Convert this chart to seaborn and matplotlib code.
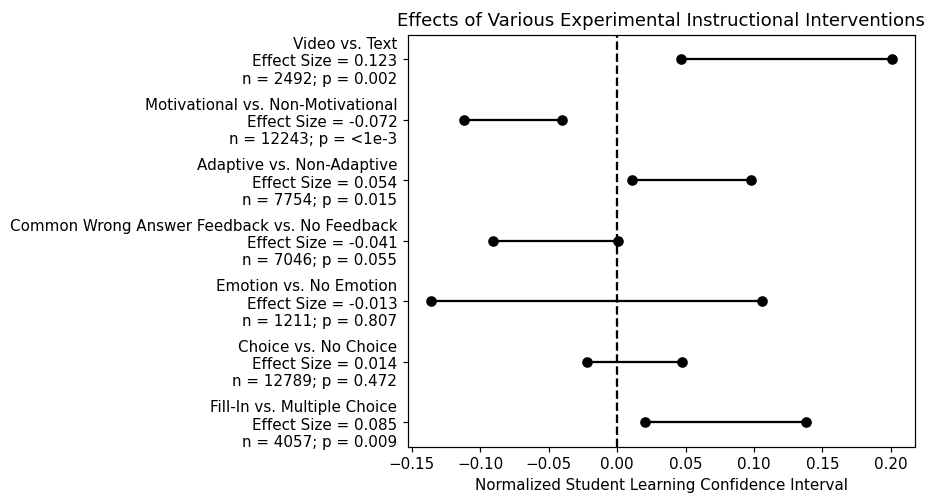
import matplotlib
matplotlib.use("Agg")
import matplotlib.pyplot as plt
import seaborn as sns
import pandas as pd

comparisons = ["Video vs. Text", "Motivational vs. Non-Motivational", "Adaptive vs. Non-Adaptive",
               "Common Wrong Answer Feedback vs. No Feedback", "Emotion vs. No Emotion",
               "Choice vs. No Choice", "Fill-In vs. Multiple Choice"]
effect_sizes = ["0.123", "-0.072", "0.054", "-0.041", "-0.013", "0.014", "0.085"]
n_values = ["2492", "12243", "7754", "7046", "1211", "12789", "4057"]
p_values = ["0.002", "<1e-3", "0.015", "0.055", "0.807", "0.472", "0.009"]
ci_low = [0.0463, -0.1122, 0.0110, -0.0910, -0.1360, -0.0220, 0.0200]
ci_high = [0.2007, -0.0400, 0.0978, 0.0007, 0.1060, 0.0476, 0.1378]

labels = [f"{c}\nEffect Size = {e}\nn = {n}; p = {p}"
          for c, e, n, p in zip(comparisons, effect_sizes, n_values, p_values)]

rows = []
for i, lab in enumerate(labels):
    rows.append({"label": lab, "pos": i, "value": ci_low[i]})
    rows.append({"label": lab, "pos": i, "value": ci_high[i]})
df = pd.DataFrame(rows)

DPI = 109
fig, ax = plt.subplots(figsize=(927 / DPI, 494 / DPI), dpi=DPI)
fig.subplots_adjust(left=0.440, right=0.987, top=0.929, bottom=0.096)

sns.lineplot(data=df, x="value", y="pos", units="label", estimator=None, sort=False,
             color="black", marker="o", markersize=6, markeredgecolor="black",
             markeredgewidth=1.0, linewidth=1.5, ax=ax, legend=False)

ax.axvline(0, color="black", linestyle="--", linewidth=1.5)
ax.set_yticks(range(len(labels)))
ax.set_yticklabels(labels)
ax.set_ylim(len(labels) - 1 + 0.4, -0.4)
ax.set_ylabel("")
ax.set_xlabel("Normalized Student Learning Confidence Interval")
ax.set_title("Effects of Various Experimental Instructional Interventions")

fig.savefig("out.png", dpi=DPI)
